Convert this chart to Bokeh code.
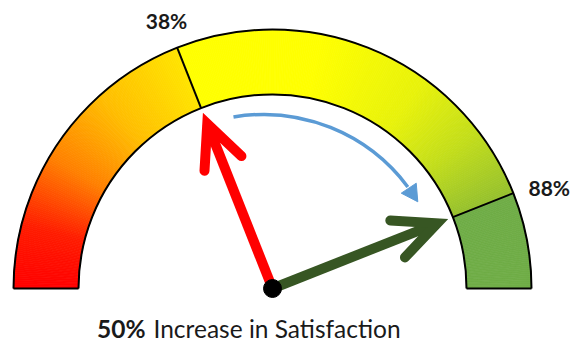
import numpy as np
from bokeh.plotting import figure
from bokeh.models import Range1d
from bokeh.core.properties import value
from bokeh.embed import file_html
from bokeh.resources import INLINE

# Satisfaction scores (percent of a 0-100 scale)
scale_max = 100
before_pct = 38
after_pct = 88
marker_values = [before_pct, after_pct]
marker_labels = [f"{v}%" for v in marker_values]
increase_pct = after_pct - before_pct
caption_bold = f"{increase_pct}%"
caption_rest = "Increase in Satisfaction"

# Page / gauge geometry (pixels)
W, H = 573, 344
CX, CY = 272, 288            # gauge centre, measured from the top-left corner
R_OUT, R_IN = 259, 194
R_TIP = 189                  # radius reached by the needle tips
FONT = "Lato"

# Colour ramps along each band segment (fraction within segment, rgb)
low_ramp = [(0.00, (255, 0, 0)), (0.21, (255, 28, 0)), (0.45, (255, 128, 0)),
            (0.71, (255, 190, 0)), (1.00, (255, 228, 0))]
mid_ramp = [(0.00, (255, 255, 0)), (0.36, (255, 255, 0)), (0.64, (232, 242, 10)),
            (0.82, (196, 222, 26)), (1.00, (150, 193, 46))]
high_color = "#70AD47"


def ang(v):
    """Angle (radians) of a scale value; 0 at the left, max at the right."""
    return np.pi * (1.0 - v / scale_max)


def ramp(stops, f):
    for (f0, c0), (f1, c1) in zip(stops[:-1], stops[1:]):
        if f <= f1:
            k = (f - f0) / (f1 - f0) if f1 > f0 else 0.0
            rgb = [round(a + (b - a) * k) for a, b in zip(c0, c1)]
            return "#%02x%02x%02x" % tuple(rgb)
    return "#%02x%02x%02x" % stops[-1][1]


p = figure(width=W, height=H,
           x_range=Range1d(-CX, W - CX), y_range=Range1d(-(H - CY), CY),
           output_backend="svg", toolbar_location=None,
           x_axis_location=None, y_axis_location=None, min_border=0)
p.outline_line_color = None
p.xgrid.visible = False
p.ygrid.visible = False
p.background_fill_color = "white"
p.border_fill_color = "white"

# ---- coloured band, built from thin wedges ----
step = 0.25
edges = np.arange(0, scale_max + step / 2, step)
starts, ends, colors = [], [], []
for t0, t1 in zip(edges[:-1], edges[1:]):
    tm = 0.5 * (t0 + t1)
    if tm < before_pct:
        c = ramp(low_ramp, tm / before_pct)
    elif tm < after_pct:
        c = ramp(mid_ramp, (tm - before_pct) / (after_pct - before_pct))
    else:
        c = high_color
    starts.append(ang(t1))
    ends.append(ang(t0))
    colors.append(c)

p.annular_wedge(x=0, y=0, inner_radius=R_IN, outer_radius=R_OUT,
                start_angle=starts, end_angle=ends,
                fill_color=colors, line_color=colors, line_width=0.8)

# ---- band outline and dividers ----
p.arc(x=[0, 0], y=[0, 0], radius=[R_OUT, R_IN], start_angle=0, end_angle=np.pi,
      line_color="black", line_width=2)
p.segment(x0=[-R_OUT, R_IN], y0=[0, 0], x1=[-R_IN, R_OUT], y1=[0, 0],
          line_color="black", line_width=2)
div_a = np.array([ang(v) for v in marker_values])
p.segment(x0=R_IN * np.cos(div_a), y0=R_IN * np.sin(div_a),
          x1=R_OUT * np.cos(div_a), y1=R_OUT * np.sin(div_a),
          line_color="black", line_width=2)

# ---- value labels outside the band ----
label_r = 288
label_nudge = [(0, 0), (9, -5)]
lx = [label_r * np.cos(a) + dx for a, (dx, dy) in zip(div_a, label_nudge)]
ly = [label_r * np.sin(a) + dy for a, (dx, dy) in zip(div_a, label_nudge)]
p.text(x=lx, y=ly, text=marker_labels, text_font=value(FONT),
       text_font_style="bold", text_font_size="21px", text_color="#1a1a1a",
       text_align="center", text_baseline="middle")


# ---- needles ----
def needle(v, color, lw=10, arm=47, spread=np.radians(25)):
    a = ang(v)
    u = np.array([np.cos(a), np.sin(a)])
    vertex_r = R_TIP - (lw / 2) / np.sin(spread)
    vtx = vertex_r * u
    p.line(x=[0, vtx[0]], y=[0, vtx[1]], line_color=color, line_width=lw,
           line_cap="butt")
    back = a + np.pi
    l_end = vtx + arm * np.array([np.cos(back + spread), np.sin(back + spread)])
    r_end = vtx + arm * np.array([np.cos(back - spread), np.sin(back - spread)])
    p.line(x=[l_end[0], vtx[0], r_end[0]], y=[l_end[1], vtx[1], r_end[1]],
           line_color=color, line_width=lw, line_join="miter", line_cap="round")


needle(before_pct, "#FF0000")
needle(after_pct, "#375623")
p.scatter(x=[0], y=[0], size=18, marker="circle", fill_color="black",
          line_color="black")

# ---- curved arrow showing the change ----
arc_c = np.array([-9.0, -6.0])
arc_r = 180
a_start = ang(before_pct) - np.radians(12)
a_tip = ang(after_pct) + np.radians(9.4)
a_base = a_tip + np.radians(5.2)
p.arc(x=[arc_c[0]], y=[arc_c[1]], radius=arc_r, start_angle=a_base + np.radians(0.5),
      end_angle=a_start, line_color="#5B9BD5", line_width=3.5)
tip = arc_c + arc_r * np.array([np.cos(a_tip), np.sin(a_tip)])
base = arc_c + arc_r * np.array([np.cos(a_base), np.sin(a_base)])
d = (tip - base) / np.linalg.norm(tip - base)
n = np.array([-d[1], d[0]])
head = [base + 9 * n, tip, base - 9 * n]
p.patch(x=[q[0] for q in head], y=[q[1] for q in head],
        fill_color="#5B9BD5", line_color="#5B9BD5", line_width=1)

# ---- caption ----
cap_y = -40
p.text(x=[-127], y=[cap_y], text=[caption_bold], text_font=value(FONT),
       text_font_style="bold", text_font_size="24.5px", text_color="#1a1a1a",
       text_align="right", text_baseline="alphabetic")
p.text(x=[-119], y=[cap_y], text=[caption_rest], text_font=value(FONT),
       text_font_style="normal", text_font_size="24.5px", text_color="#1a1a1a",
       text_align="left", text_baseline="alphabetic")

open("out.html", "w").write(file_html(p, INLINE))
